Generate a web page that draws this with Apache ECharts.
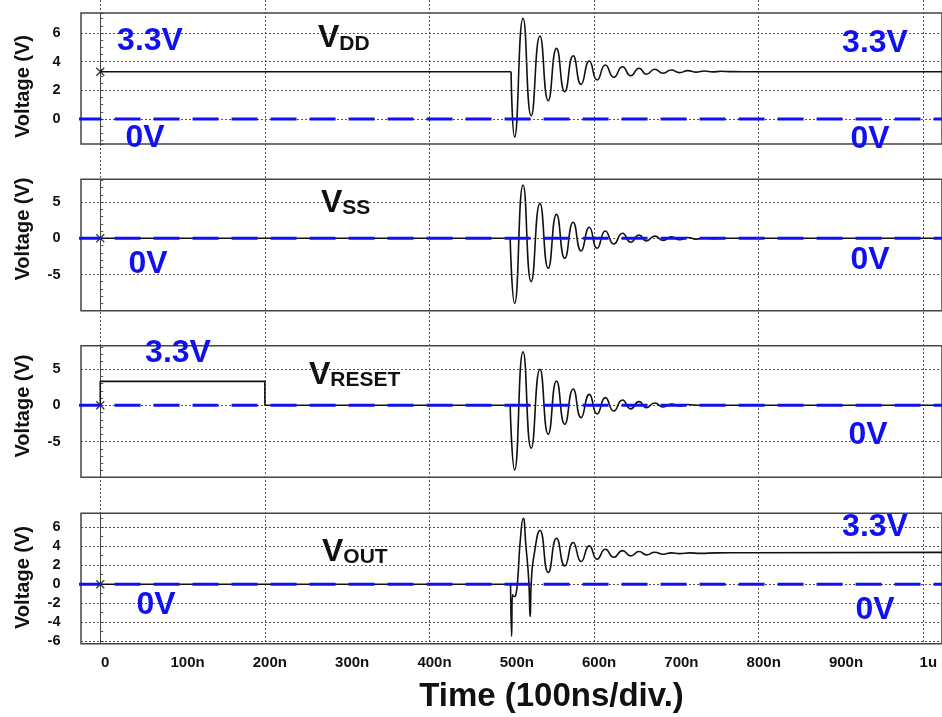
<!DOCTYPE html>
<html><head><meta charset="utf-8">
<script src="https://cdn.jsdelivr.net/npm/echarts@6/dist/echarts.min.js"></script>
<style>html,body{margin:0;padding:0;background:#fff}#c{width:942px;height:717px}</style>
</head><body><div id="c"></div>
<script>
// ---------- data ----------
const xTickValues = [0,100,200,300,400,500,600,700,800,900,1000];
const xTickLabels = ['0','100n','200n','300n','400n','500n','600n','700n','800n','900n','1u'];
const xRange = [-23.4, 1022.7];

const yTicksVdd = [0,2,4,6];
const yTicksVss = [-5,0,5];
const yTicksReset = [-5,0,5];
const yTicksOut = [-6,-4,-2,0,2,4,6];

const yRangeVdd = [-1.745, 7.40];
const yRangeVss = [-10.0, 8.15];
const yRangeReset = [-9.92, 8.21];
const yRangeOut = [-6.27, 7.47];

const zeroRef = [[-30,0],[1030,0]];

const vddPre = [[0,3.3],[499.1,3.3]];
const vddRing = [[499.1,3.3],[503.4,-1.26],[513.7,7.03],[523.6,0.23],[534.2,5.79],[544.3,1.28],[554.4,4.93],[564.4,1.91],[574.6,4.42],[584.2,2.42],[594.2,4.05],[603.7,2.72],[613.7,3.77],[623.9,2.91],[634.5,3.65],[644.5,3.02],[654.6,3.54],[663.6,3.12],[673.7,3.47],[683.8,3.19],[693.8,3.42],[703.9,3.24],[713.9,3.38],[724.0,3.27],[734.1,3.35],[744.1,3.29],[754.2,3.33],[764.2,3.31],[779.3,3.3],[1030,3.3]];

const vssPre = [[0,0],[498.0,0]];
const vssRing = [[498.0,0],[503.4,-8.98],[513.7,7.36],[523.6,-5.99],[534.2,4.83],[544.3,-4.14],[554.4,3.31],[564.4,-2.76],[574.6,2.21],[584.2,-1.75],[594.2,1.52],[603.7,-1.38],[613.7,1.0],[623.9,-0.79],[634.5,0.69],[644.5,-0.55],[654.6,0.46],[663.6,-0.37],[673.7,0.3],[683.8,-0.28],[693.8,0.2],[703.9,-0.2],[713.9,0.12],[724.0,-0.12],[734.1,0.06],[744.1,-0.06],[759.2,0],[1030,0]];

const resetPre = [[0,0],[0,3.3],[200,3.3],[200,0],[498.0,0]];
const resetRing = [[498.0,0],[503.4,-8.91],[513.7,7.38],[523.6,-5.92],[534.2,4.96],[544.3,-4.0],[554.4,3.35],[564.4,-2.62],[574.6,2.25],[584.2,-1.7],[594.2,1.51],[603.7,-1.2],[613.7,1.06],[623.9,-0.78],[634.5,0.73],[644.5,-0.5],[654.6,0.5],[663.6,-0.32],[673.7,0.32],[683.8,-0.23],[693.8,0.18],[703.9,-0.1],[713.9,0.1],[729.0,0],[1030,0]];

const outPre = [[0,0],[498.5,0]];
const outRing = [[498.5,0],[499.8,-5.5],[500.9,-1.1],[502.7,-1.3],[504.7,-1.2],[507.2,0.5],[510.2,4.5],[513.9,6.95],[517.2,4.0],[520.6,0.4],[522.3,-3.4],[523.8,0.4],[527.3,3.2],[534.2,5.65],[544.3,1.23],[554.4,4.84],[564.4,1.93],[574.6,4.39],[584.2,2.39],[594.2,4.04],[603.7,2.63],[613.7,3.68],[623.9,2.84],[634.5,3.54],[644.5,2.98],[654.6,3.44],[663.6,3.09],[673.7,3.37],[683.8,3.16],[693.8,3.3],[703.9,3.22],[715.9,3.3],[729.0,3.25],[749.2,3.3],[784.4,3.32],[1030,3.35]];

// ---------- layout / style ----------
const FONT = 'Liberation Sans, Arial, sans-serif';
const BLUE = '#1010f0';
const INK = '#111';
const panels = [
  {top:13,    height:131,   yr:yRangeVdd,   ticks:yTicksVdd,   split:5, minor:4, namePad:[0,16,0,0], pre:vddPre,   ring:vddRing},
  {top:179.3, height:131.4, yr:yRangeVss,   ticks:yTicksVss,   split:4, minor:5, namePad:[0,0,0,32], pre:vssPre,   ring:vssRing},
  {top:345.7, height:131.6, yr:yRangeReset, ticks:yTicksReset, split:4, minor:5, namePad:[0,0,0,11], pre:resetPre, ring:resetRing},
  {top:513.3, height:130.4, yr:yRangeOut,   ticks:yTicksOut,   split:7, minor:2, namePad:[0,0,0,2],  pre:outPre,   ring:outRing}
];

const grid = [], xAxis = [], yAxis = [], series = [];
panels.forEach((p, i) => {
  grid.push({left:81, right:-2, top:p.top, height:p.height, show:true,
    borderColor:'#444', borderWidth:1.5, backgroundColor:'transparent'});
  const last = i === panels.length - 1;
  xAxis.push({type:'value', gridIndex:i, min:xRange[0], max:xRange[1], splitNumber:5,
    axisLine:{show:false}, axisTick:{show:false}, splitLine:{show:false},
    axisLabel: last ? {show:true, customValues:xTickValues, margin:12, fontFamily:FONT, fontWeight:'bold',
      fontSize:15, color:INK, padding:[0,0,0,10],
      formatter:(v)=>xTickLabels[xTickValues.indexOf(v)]} : {show:false},
    name: last ? 'Time (100ns/div.)' : '', nameLocation:'middle', nameGap:37,
    nameTextStyle:{fontFamily:FONT, fontWeight:'bold', fontSize:33, color:INK, padding:[0,0,0,80]}
  });
  yAxis.push({type:'value', gridIndex:i, min:p.yr[0], max:p.yr[1], splitNumber:p.split, offset:3.5,
    name:'Voltage (V)', nameLocation:'middle', nameGap:44,
    nameTextStyle:{fontFamily:FONT, fontWeight:'bold', fontSize:20, color:INK, padding:p.namePad},
    axisLine:{show:true, lineStyle:{color:'#444', width:1}},
    axisTick:{show:true, inside:true, length:3.5, lineStyle:{color:'#444'}},
    minorTick:{show:true, splitNumber:p.minor, length:3, lineStyle:{color:'#555'}},
    axisLabel:{customValues:p.ticks, margin:17, fontFamily:FONT, fontWeight:'bold', fontSize:14.5, color:INK},
    splitLine:{show:true, showMinLine:false, showMaxLine:false, lineStyle:{color:'#555', width:1, type:[2,2]}}
  });
  series.push({type:'line', xAxisIndex:i, yAxisIndex:i, data:p.pre, symbol:'none', z:4,
    lineStyle:{color:INK, width:1.6}, silent:true, animation:false});
  series.push({type:'line', xAxisIndex:i, yAxisIndex:i, data:p.ring, symbol:'none', smooth:0.55, z:4,
    lineStyle:{color:INK, width:1.6}, silent:true, animation:false});
  series.push({type:'scatter', xAxisIndex:i, yAxisIndex:i, data:[p.pre[0].slice()], z:4,
    symbol:'path://M0,0L10,10M10,0L0,10', symbolSize:8,
    itemStyle:{color:'transparent', borderColor:INK, borderWidth:1.4}, silent:true, animation:false});
  series.push({type:'line', xAxisIndex:i, yAxisIndex:i, data:zeroRef, symbol:'none', z:5,
    lineStyle:{color:BLUE, width:3, type:[26,13]}, silent:true, animation:false});
});

// overlay grid carrying the vertical time-grid lines that run through the whole figure
grid.push({left:81, right:-2, top:0, height:644, show:false});
xAxis.push({type:'value', gridIndex:4, min:xRange[0], max:xRange[1], splitNumber:5,
  axisLine:{show:false}, axisTick:{show:false}, axisLabel:{show:false},
  splitLine:{show:true, showMinLine:false, showMaxLine:false, lineStyle:{color:'#555', width:1, type:[2,2]}}});
yAxis.push({type:'value', gridIndex:4, show:false, min:0, max:1});

// annotations (text only)
const blueText = (t, x, y) => ({type:'text', x, y, z:10, style:{text:t, fill:BLUE,
  font:'bold 32px ' + FONT, textAlign:'center', textVerticalAlign:'middle'}});
const sigName = (main, sub, x, y) => ({type:'text', x, y, z:10, style:{
  text:'{v|' + main + '}{s|' + sub + '}', textAlign:'left', textVerticalAlign:'middle',
  rich:{v:{fontFamily:FONT, fontWeight:'bold', fontSize:32, lineHeight:30, verticalAlign:'bottom', fill:INK},
        s:{fontFamily:FONT, fontWeight:'bold', fontSize:21, lineHeight:14, verticalAlign:'bottom', fill:INK}}}});

const graphic = [
  blueText('3.3V', 150, 41), blueText('0V', 145, 138.5), blueText('3.3V', 875, 43.5), blueText('0V', 870, 139),
  blueText('0V', 148, 264), blueText('0V', 870, 260),
  blueText('3.3V', 178, 353.5), blueText('0V', 868, 435),
  blueText('0V', 156, 605), blueText('3.3V', 875, 527), blueText('0V', 875, 610),
  sigName('V', 'DD', 318, 39.5), sigName('V', 'SS', 321, 204),
  sigName('V', 'RESET', 309, 376), sigName('V', 'OUT', 322, 553)
];

const chart = echarts.init(document.getElementById('c'), null, {renderer:'canvas'});
chart.setOption({animation:false, backgroundColor:'#fff', grid, xAxis, yAxis, series, graphic});
</script>
</body></html>
